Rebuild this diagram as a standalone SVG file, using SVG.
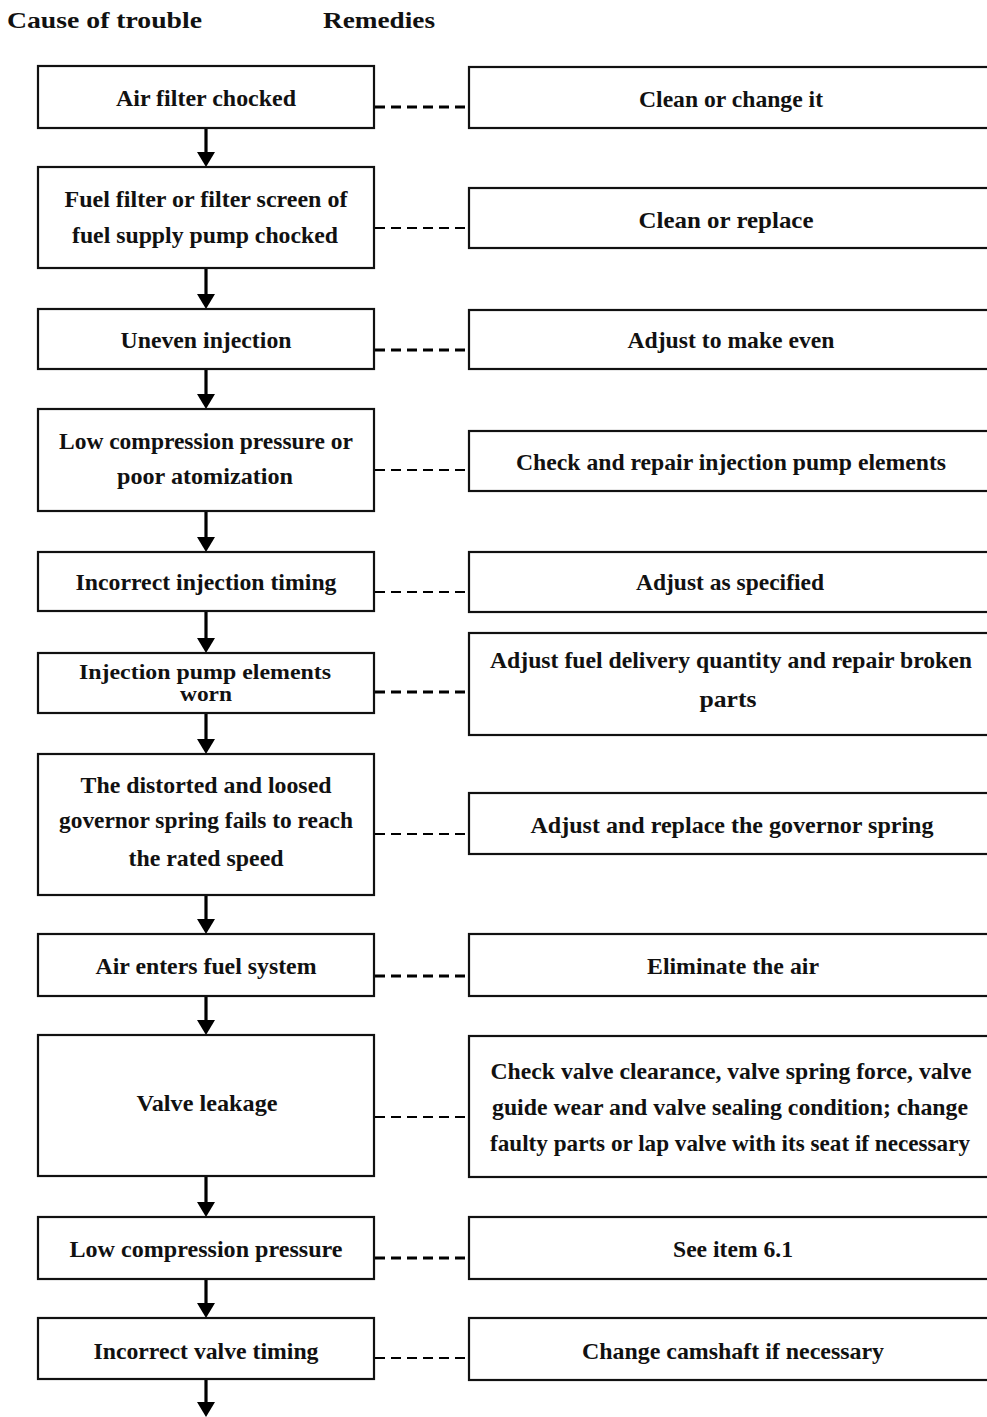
<svg xmlns="http://www.w3.org/2000/svg" width="987" height="1417" viewBox="0 0 987 1417">
<style>
text{font-family:"Liberation Serif","Times New Roman",serif;font-weight:bold;font-size:23px;fill:#111;text-anchor:middle}
.box{fill:#fff;stroke:#111;stroke-width:2.2}
.arrow{stroke:#000;stroke-width:3.2;fill:none}
.dthick{stroke:#000;stroke-width:3;stroke-dasharray:10 6;fill:none}
.dthin{stroke:#000;stroke-width:2;stroke-dasharray:10 6;fill:none}
.hdr{text-anchor:start;font-size:24px}
.tight{font-size:22px}
</style>
<defs>
<marker id="ah" viewBox="0 0 15 18" refX="5" refY="9" markerWidth="15" markerHeight="18" markerUnits="userSpaceOnUse" orient="auto">
<path d="M0,0 L15,9 L0,18 Z" fill="#000"/>
</marker>
</defs>
<g id="headers">
<text class="hdr" x="7" y="28" textLength="195" lengthAdjust="spacingAndGlyphs">Cause of trouble</text>
<text class="hdr" x="323" y="28" textLength="112" lengthAdjust="spacingAndGlyphs">Remedies</text>
</g>
<g id="connectors">
<line class="arrow" x1="206" y1="128" x2="206" y2="157" marker-end="url(#ah)"/>
<line class="arrow" x1="206" y1="268" x2="206" y2="299" marker-end="url(#ah)"/>
<line class="arrow" x1="206" y1="369" x2="206" y2="399" marker-end="url(#ah)"/>
<line class="arrow" x1="206" y1="511" x2="206" y2="542" marker-end="url(#ah)"/>
<line class="arrow" x1="206" y1="611" x2="206" y2="643" marker-end="url(#ah)"/>
<line class="arrow" x1="206" y1="713" x2="206" y2="744" marker-end="url(#ah)"/>
<line class="arrow" x1="206" y1="895" x2="206" y2="924" marker-end="url(#ah)"/>
<line class="arrow" x1="206" y1="996" x2="206" y2="1025" marker-end="url(#ah)"/>
<line class="arrow" x1="206" y1="1176" x2="206" y2="1207" marker-end="url(#ah)"/>
<line class="arrow" x1="206" y1="1279" x2="206" y2="1308" marker-end="url(#ah)"/>
<line class="arrow" x1="206" y1="1379" x2="206" y2="1407" marker-end="url(#ah)"/>
<line class="dthick" x1="375" y1="107" x2="469" y2="107"/>
<line class="dthin" x1="375" y1="228" x2="469" y2="228"/>
<line class="dthick" x1="375" y1="350" x2="469" y2="350"/>
<line class="dthin" x1="375" y1="470" x2="469" y2="470"/>
<line class="dthin" x1="375" y1="592" x2="469" y2="592"/>
<line class="dthick" x1="375" y1="692" x2="469" y2="692"/>
<line class="dthin" x1="375" y1="834" x2="469" y2="834"/>
<line class="dthick" x1="375" y1="976" x2="469" y2="976"/>
<line class="dthin" x1="375" y1="1117" x2="469" y2="1117"/>
<line class="dthick" x1="375" y1="1258" x2="469" y2="1258"/>
<line class="dthin" x1="375" y1="1358" x2="469" y2="1358"/>
</g>
<g id="cause1"><rect class="box" x="38" y="66" width="336" height="62"/><text x="206" y="106" textLength="180" lengthAdjust="spacingAndGlyphs">Air filter chocked</text></g>
<g id="cause2"><rect class="box" x="38" y="167" width="336" height="101"/><text x="206" y="207" textLength="283" lengthAdjust="spacingAndGlyphs">Fuel filter or filter screen of</text><text x="205" y="243" textLength="266" lengthAdjust="spacingAndGlyphs">fuel supply pump chocked</text></g>
<g id="cause3"><rect class="box" x="38" y="309" width="336" height="60"/><text x="206" y="348" textLength="171" lengthAdjust="spacingAndGlyphs">Uneven injection</text></g>
<g id="cause4"><rect class="box" x="38" y="409" width="336" height="102"/><text x="206" y="449" textLength="294" lengthAdjust="spacingAndGlyphs">Low compression pressure or</text><text x="205" y="484" textLength="176" lengthAdjust="spacingAndGlyphs">poor atomization</text></g>
<g id="cause5"><rect class="box" x="38" y="552" width="336" height="59"/><text x="206" y="590" textLength="261" lengthAdjust="spacingAndGlyphs">Incorrect injection timing</text></g>
<g id="cause6"><rect class="box" x="38" y="653" width="336" height="60"/><text class="tight" x="205" y="679" textLength="252" lengthAdjust="spacingAndGlyphs">Injection pump elements</text><text class="tight" x="206" y="701" textLength="52" lengthAdjust="spacingAndGlyphs">worn</text></g>
<g id="cause7"><rect class="box" x="38" y="754" width="336" height="141"/><text x="206" y="793" textLength="251" lengthAdjust="spacingAndGlyphs">The distorted and loosed</text><text x="206" y="828" textLength="294" lengthAdjust="spacingAndGlyphs">governor spring fails to reach</text><text x="206" y="866" textLength="155" lengthAdjust="spacingAndGlyphs">the rated speed</text></g>
<g id="cause8"><rect class="box" x="38" y="934" width="336" height="62"/><text x="206" y="974" textLength="221" lengthAdjust="spacingAndGlyphs">Air enters fuel system</text></g>
<g id="cause9"><rect class="box" x="38" y="1035" width="336" height="141"/><text x="207" y="1111" textLength="141" lengthAdjust="spacingAndGlyphs">Valve leakage</text></g>
<g id="cause10"><rect class="box" x="38" y="1217" width="336" height="62"/><text x="206" y="1257" textLength="273" lengthAdjust="spacingAndGlyphs">Low compression pressure</text></g>
<g id="cause11"><rect class="box" x="38" y="1318" width="336" height="61"/><text x="206" y="1359" textLength="225" lengthAdjust="spacingAndGlyphs">Incorrect valve timing</text></g>
<g id="remedy1"><rect class="box" x="469" y="67" width="530" height="61"/><text x="731" y="107" textLength="184" lengthAdjust="spacingAndGlyphs">Clean or change it</text></g>
<g id="remedy2"><rect class="box" x="469" y="188" width="530" height="60"/><text x="726" y="228" textLength="175" lengthAdjust="spacingAndGlyphs">Clean or replace</text></g>
<g id="remedy3"><rect class="box" x="469" y="310" width="530" height="59"/><text x="731" y="348" textLength="207" lengthAdjust="spacingAndGlyphs">Adjust to make even</text></g>
<g id="remedy4"><rect class="box" x="469" y="431" width="530" height="60"/><text x="731" y="470" textLength="430" lengthAdjust="spacingAndGlyphs">Check and repair injection pump elements</text></g>
<g id="remedy5"><rect class="box" x="469" y="552" width="530" height="60"/><text x="730" y="590" textLength="188" lengthAdjust="spacingAndGlyphs">Adjust as specified</text></g>
<g id="remedy6"><rect class="box" x="469" y="633" width="530" height="102"/><text x="731" y="668" textLength="482" lengthAdjust="spacingAndGlyphs">Adjust fuel delivery quantity and repair broken</text><text x="728" y="707" textLength="57" lengthAdjust="spacingAndGlyphs">parts</text></g>
<g id="remedy7"><rect class="box" x="469" y="793" width="530" height="61"/><text x="732" y="833" textLength="403" lengthAdjust="spacingAndGlyphs">Adjust and replace the governor spring</text></g>
<g id="remedy8"><rect class="box" x="469" y="934" width="530" height="62"/><text x="733" y="974" textLength="172" lengthAdjust="spacingAndGlyphs">Eliminate the air</text></g>
<g id="remedy9"><rect class="box" x="469" y="1036" width="530" height="141"/><text x="731" y="1079" textLength="481" lengthAdjust="spacingAndGlyphs">Check valve clearance, valve spring force, valve</text><text x="730" y="1115" textLength="476" lengthAdjust="spacingAndGlyphs">guide wear and valve sealing condition; change</text><text x="730" y="1151" textLength="480" lengthAdjust="spacingAndGlyphs">faulty parts or lap valve with its seat if necessary</text></g>
<g id="remedy10"><rect class="box" x="469" y="1217" width="530" height="62"/><text x="733" y="1257" textLength="120" lengthAdjust="spacingAndGlyphs">See item 6.1</text></g>
<g id="remedy11"><rect class="box" x="469" y="1318" width="530" height="62"/><text x="733" y="1359" textLength="302" lengthAdjust="spacingAndGlyphs">Change camshaft if necessary</text></g>
</svg>
